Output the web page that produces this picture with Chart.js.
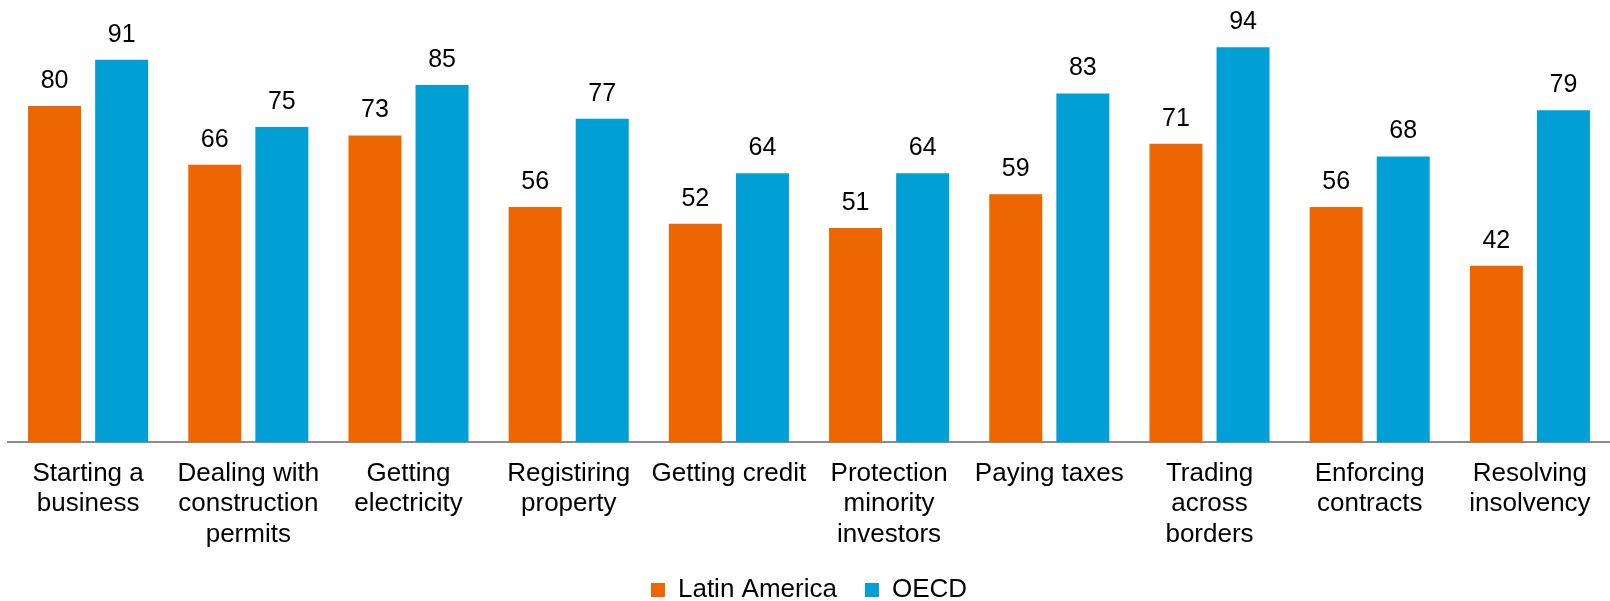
<!DOCTYPE html>
<html lang="en">
<head>
  <meta charset="UTF-8">
  <title>Doing Business scores</title>
  <script src="https://cdn.jsdelivr.net/npm/chart.js"></script>
  <style>
    html, body { margin: 0; padding: 0; background: #fff; }
    #wrap { width: 1610px; height: 601px; }
  </style>
</head>
<body>
  <div id="wrap"><canvas id="scoreChart"></canvas></div>

  <script>
    const categories = [
      ['Starting a', 'business'],
      ['Dealing with', 'construction', 'permits'],
      ['Getting', 'electricity'],
      ['Registiring', 'property'],
      'Getting credit',
      ['Protection', 'minority', 'investors'],
      'Paying taxes',
      ['Trading', 'across', 'borders'],
      ['Enforcing', 'contracts'],
      ['Resolving', 'insolvency']
    ];
    const latinAmerica = [80, 66, 73, 56, 52, 51, 59, 71, 56, 42];
    const oecd = [91, 75, 85, 77, 64, 64, 83, 94, 68, 79];

    const FONT = 'Liberation Sans, Arial, sans-serif';

    // writes the value above each bar
    const valueLabels = {
      id: 'valueLabels',
      afterDatasetsDraw(chart) {
        const ctx = chart.ctx;
        ctx.save();
        ctx.font = '25px ' + FONT;
        ctx.fillStyle = '#000';
        ctx.textAlign = 'center';
        ctx.textBaseline = 'alphabetic';
        chart.data.datasets.forEach((ds, i) => {
          chart.getDatasetMeta(i).data.forEach((bar, j) => {
            ctx.fillText(ds.data[j], bar.x, bar.y - 18);
          });
        });
        ctx.restore();
      }
    };

    new Chart(document.getElementById('scoreChart'), {
      type: 'bar',
      data: {
        labels: categories,
        datasets: [
          { label: 'Latin America', data: latinAmerica, backgroundColor: '#EE6600' },
          { label: 'OECD', data: oecd, backgroundColor: '#00A0D6' }
        ]
      },
      options: {
        responsive: true,
        maintainAspectRatio: false,
        animation: false,
        categoryPercentage: 0.8375,
        barPercentage: 0.79,
        layout: { padding: { left: 8, right: 0, top: 22, bottom: -12 } },
        scales: {
          x: {
            grid: { display: false, drawTicks: false },
            border: { display: true, color: '#8c8c8c', width: 2 },
            ticks: {
              color: '#000',
              padding: 16,
              maxRotation: 0,
              autoSkip: false,
              font: { family: FONT, size: 26, lineHeight: 1.177 }
            },
            // tighten the gap between the category labels and the legend
            afterFit(scale) {
              scale.height -= 17;
            }
          },
          y: {
            display: false,
            min: 0,
            max: 100
          }
        },
        plugins: {
          legend: {
            position: 'bottom',
            labels: {
              color: '#000',
              boxWidth: 14,
              boxHeight: 14,
              padding: 28,
              font: { family: FONT, size: 26 }
            }
          },
          tooltip: { enabled: false }
        }
      },
      plugins: [valueLabels]
    });
  </script>
</body>
</html>
